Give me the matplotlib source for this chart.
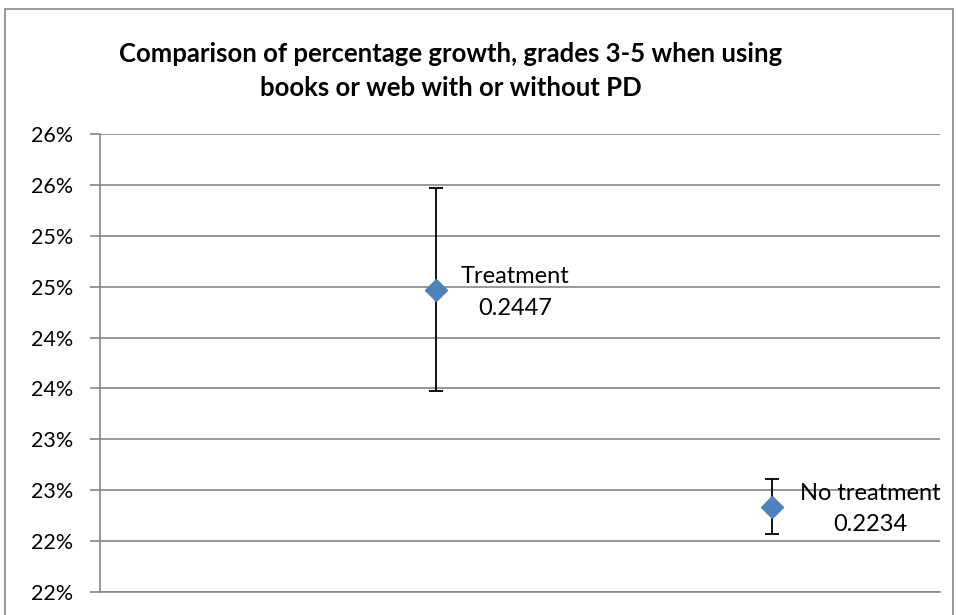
import matplotlib
matplotlib.use("Agg")
import matplotlib.pyplot as plt
from matplotlib.ticker import FuncFormatter, MultipleLocator
from matplotlib.patches import Rectangle

# data
groups = ["Treatment", "No treatment"]
xpos = [1, 2]
growth = [0.2447, 0.2234]
err = [0.0100, 0.0027]

plt.rcParams['font.family'] = ['Lato', 'DejaVu Sans']

fig = plt.figure(figsize=(9.58, 6.15), dpi=100)
ax = fig.add_axes([100 / 958, 1 - 592 / 615, 840 / 958, 458 / 615])

ax.errorbar(xpos, growth, yerr=err, fmt='none', ecolor='black', elinewidth=1.3,
            capsize=5, capthick=1.3, zorder=3)
ax.plot(xpos, growth, linestyle='none', marker='D', markersize=11,
        color='#4F81BD', markeredgecolor='#4F81BD', zorder=4)

offsets = [18, 20]
for x, y, g, o in zip(xpos, growth, groups, offsets):
    ax.annotate(f"{g}\n{y:.4f}", (x, y), xytext=(o, -2), textcoords='offset points',
                ha='left', va='center', multialignment='center', fontsize=17,
                linespacing=1.6, color='black', zorder=5)

ax.set_xlim(0, 2.5)
ax.set_ylim(0.215, 0.26)
ax.yaxis.set_major_locator(MultipleLocator(0.005))
ax.yaxis.set_major_formatter(FuncFormatter(lambda v, p: f"{int(v * 100 + 0.5 + 1e-9)}%"))
ax.grid(axis='y', color='#868686', linewidth=1.2)
ax.set_axisbelow(True)
ax.set_xticks([])
for s in ['top', 'right']:
    ax.spines[s].set_visible(False)
ax.spines['left'].set_color('#868686')
ax.spines['bottom'].set_color('#868686')
ax.spines['left'].set_linewidth(1.2)
ax.spines['bottom'].set_linewidth(1.2)
ax.tick_params(axis='y', length=7, color='#868686', width=1.2, labelsize=15.5, pad=12)

fig.text(451 / 958, 1 - 71 / 615, "Comparison of percentage growth, grades 3-5 when using\nbooks or web with or without PD",
         ha='center', va='center', fontsize=18.5, fontweight='bold', linespacing=1.45)

fig.patches.append(Rectangle((5 / 958, -0.05), 948 / 958, 1.05 - 9 / 615, transform=fig.transFigure,
                             fill=False, edgecolor='#868686', linewidth=1.2))

fig.savefig("out.png", dpi=100)
